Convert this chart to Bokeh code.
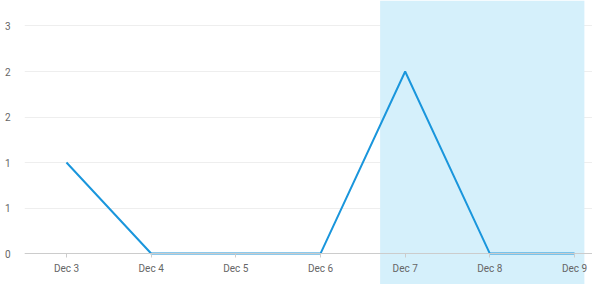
import pandas as pd
from bokeh.plotting import figure
from bokeh.models import BoxAnnotation, FixedTicker, DaysTicker, DatetimeTickFormatter, Range1d
from bokeh.embed import file_html
from bokeh.resources import INLINE

dates = pd.to_datetime(["2023-12-03", "2023-12-04", "2023-12-05", "2023-12-06",
                        "2023-12-07", "2023-12-08", "2023-12-09"])
values = [1, 0, 0, 0, 2, 0, 0]
y_ticks = [0, 0.5, 1, 1.5, 2, 2.5]
y_tick_labels = ["0", "1", "1", "2", "2", "3"]
band_start = pd.Timestamp("2023-12-07") - pd.Timedelta(hours=7.1)
band_end = pd.Timestamp("2023-12-09") + pd.Timedelta(hours=2.8)

x_start = dates[0] - pd.Timedelta(hours=11.9)
x_end = dates[-1] + pd.Timedelta(hours=5.1)

p = figure(width=592, height=284, x_axis_type="datetime", output_backend="svg",
           toolbar_location=None, min_border_left=24, min_border_right=0,
           min_border_top=0, min_border_bottom=0,
           x_range=Range1d(x_start, x_end), y_range=Range1d(-0.34, 2.78))
p.outline_line_color = None
p.background_fill_color = "white"

band = BoxAnnotation(left=band_start, right=band_end, fill_color="#d5f0fb",
                     fill_alpha=1.0, line_color=None, level="underlay")
p.add_layout(band)

p.line(dates, values, line_color="#1a96dc", line_width=2)

p.xgrid.visible = False
p.ygrid.grid_line_color = "#eeeeee"
p.ygrid.ticker = FixedTicker(ticks=y_ticks)

p.yaxis.ticker = FixedTicker(ticks=y_ticks)
p.yaxis.major_label_overrides = {t: l for t, l in zip(y_ticks, y_tick_labels)}
p.yaxis.axis_line_color = None
p.yaxis.major_tick_line_color = None
p.yaxis.minor_tick_line_color = None
p.yaxis.major_label_standoff = 8
p.yaxis.major_label_text_font = "Roboto"
p.yaxis.major_label_text_font_size = "10px"
p.yaxis.major_label_text_color = "#666666"

p.xaxis.fixed_location = 0
p.xaxis.ticker = DaysTicker(days=list(range(1, 32)))
p.xaxis.formatter = DatetimeTickFormatter(days="%b %-d")
p.xaxis.axis_line_color = "#cccccc"
p.xaxis.major_tick_line_color = "#cccccc"
p.xaxis.major_tick_in = 0
p.xaxis.major_tick_out = 4
p.xaxis.minor_tick_line_color = None
p.xaxis.major_label_standoff = 5
p.xaxis.major_label_text_font = "Roboto"
p.xaxis.major_label_text_font_size = "10px"
p.xaxis.major_label_text_color = "#666666"

open("out.html", "w").write(file_html(p, INLINE))
